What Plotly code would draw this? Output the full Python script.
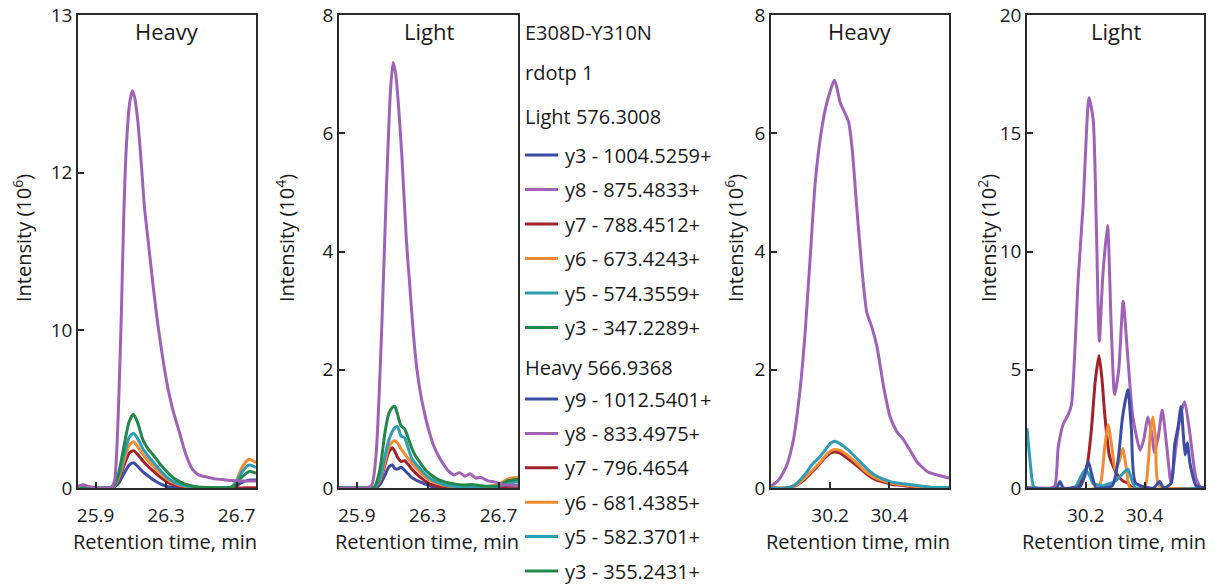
import numpy as np
import plotly.graph_objects as go

W, H = 1226, 584
FONT = "Open Sans"

COL = {
    "blue": "#3B4DA3",
    "purple": "#A062B5",
    "red": "#A2222B",
    "orange": "#F38B33",
    "cyan": "#2E9DB4",
    "green": "#23874A",
}

# ---------------- Peptide 1, heavy channel (intensity, 1e6) ----------------
h1_purple_t = [25.80, 25.83, 25.86, 25.90, 25.99, 26.008, 26.021, 26.033, 26.046, 26.059,
               26.074, 26.093, 26.108, 26.121, 26.14, 26.159, 26.177, 26.196, 26.224, 26.252,
               26.28, 26.309, 26.337, 26.375, 26.412, 26.45, 26.487, 26.53, 26.58, 26.63,
               26.675, 26.73, 26.81]
h1_purple = [0.1, 0.2, 0.1, 0.0, 0.05, 0.5, 2.6, 6.2, 10.2, 11.4,
             12.16, 12.44, 12.52, 12.48, 12.32, 12.06, 11.56, 11.18, 10.61, 10.09,
             8.3, 6.4, 5.0, 3.55, 2.13, 1.18, 0.82, 0.7, 0.58, 0.52,
             0.47, 0.45, 0.45]
h1_t = [25.80, 25.95, 26.00, 26.03, 26.06, 26.09, 26.115, 26.14, 26.17, 26.20, 26.23, 26.26,
        26.29, 26.32, 26.36, 26.40, 26.45, 26.50, 26.60, 26.67, 26.70, 26.73, 26.77, 26.81]
h1_green = [0, 0, 0.1, 0.9, 2.6, 4.2, 4.67, 4.1, 3.0, 2.45, 2.05, 1.6,
            1.2, 0.85, 0.5, 0.28, 0.12, 0.05, 0.02, 0.05, 0.3, 0.7, 1.04, 0.95]
h1_cyan = [0, 0, 0.08, 0.7, 2.0, 3.2, 3.47, 3.1, 2.45, 2.0, 1.6, 1.2,
           0.85, 0.55, 0.3, 0.15, 0.06, 0.02, 0.01, 0.05, 0.4, 1.0, 1.46, 1.3]
h1_orange = [0, 0, 0.07, 0.6, 1.7, 2.7, 2.94, 2.6, 2.1, 1.7, 1.35, 1.0,
             0.7, 0.45, 0.25, 0.12, 0.05, 0.02, 0.01, 0.05, 0.5, 1.3, 1.82, 1.6]
h1_red = [0, 0, 0.05, 0.5, 1.4, 2.2, 2.37, 2.1, 1.7, 1.35, 1.05, 0.75,
          0.5, 0.3, 0.15, 0.07, 0.03, 0.01, 0, 0, 0, 0, 0.02, 0.02]
h1_blue = [0, 0, 0.03, 0.3, 0.9, 1.45, 1.6, 1.35, 1.0, 0.75, 0.5, 0.3,
           0.15, 0.07, 0.02, 0.01, 0, 0, 0, 0.02, 0.15, 0.35, 0.5, 0.5]

# broken intensity axis of the first panel: tick values and their labels
h1_tick_values = [0, 10, 12, 13]
h1_tick_text = ["0", "10", "12", "13"]

# ---------------- Peptide 1, light channel (intensity, 1e4) ----------------
l1_purple_t = [25.80, 25.95, 25.985, 26.01, 26.04, 26.068, 26.09, 26.105, 26.12, 26.135,
               26.155, 26.18, 26.20, 26.22, 26.24, 26.26, 26.28, 26.30, 26.33, 26.36,
               26.39, 26.42, 26.45, 26.48, 26.51, 26.54, 26.57, 26.60, 26.64, 26.68,
               26.72, 26.76, 26.81]
l1_purple = [0, 0, 0.05, 0.6, 2.6, 5.1, 6.7, 7.2, 7.0, 6.5,
             5.6, 4.2, 3.4, 2.6, 2.0, 1.6, 1.3, 1.05, 0.75, 0.55,
             0.4, 0.28, 0.22, 0.26, 0.2, 0.24, 0.17, 0.18, 0.12, 0.1,
             0.06, 0.05, 0.04]
l1_t = [25.80, 25.95, 26.00, 26.03, 26.06, 26.08, 26.10, 26.115, 26.13, 26.15, 26.17, 26.19,
        26.21, 26.23, 26.26, 26.29, 26.32, 26.36, 26.40, 26.45, 26.50, 26.55, 26.60, 26.65,
        26.70, 26.75, 26.81]
l1_green = [0, 0, 0.02, 0.3, 0.95, 1.25, 1.36, 1.38, 1.25, 1.05, 1.0, 0.85,
            0.68, 0.55, 0.42, 0.3, 0.22, 0.14, 0.1, 0.07, 0.05, 0.06, 0.04, 0.03,
            0.04, 0.12, 0.15]
l1_cyan = [0, 0, 0.01, 0.15, 0.55, 0.8, 0.95, 1.02, 1.04, 0.88, 0.85, 0.68,
           0.5, 0.42, 0.32, 0.22, 0.15, 0.09, 0.05, 0.03, 0.02, 0.02, 0.02, 0.02,
           0.03, 0.08, 0.1]
l1_orange = [0, 0, 0.01, 0.12, 0.45, 0.68, 0.78, 0.8, 0.76, 0.66, 0.58, 0.5,
             0.42, 0.35, 0.26, 0.18, 0.12, 0.07, 0.04, 0.02, 0.02, 0.02, 0.02, 0.03,
             0.06, 0.15, 0.18]
l1_red = [0, 0, 0.01, 0.1, 0.4, 0.6, 0.68, 0.62, 0.52, 0.45, 0.46, 0.4,
          0.32, 0.26, 0.18, 0.11, 0.06, 0.03, 0.02, 0.01, 0.01, 0.01, 0.01, 0.01,
          0.02, 0.03, 0.03]
l1_blue = [0, 0, 0.0, 0.05, 0.22, 0.35, 0.39, 0.33, 0.32, 0.35, 0.3, 0.24,
           0.18, 0.14, 0.1, 0.06, 0.03, 0.01, 0, 0, 0, 0, 0, 0,
           0.01, 0.03, 0.04]

# ---------------- Peptide 2, heavy channel (intensity, 1e6) ----------------
h2_purple_t = [30.0, 30.025, 30.053, 30.076, 30.098, 30.115, 30.132, 30.149, 30.166, 30.183,
               30.2, 30.214, 30.223, 30.234, 30.251, 30.262, 30.274, 30.29, 30.307, 30.324,
               30.341, 30.358, 30.381, 30.403, 30.426, 30.448, 30.471, 30.494, 30.528, 30.562,
               30.602]
h2_purple = [0.03, 0.13, 0.38, 0.82, 1.65, 2.6, 3.86, 5.13, 5.89, 6.39,
             6.71, 6.9, 6.77, 6.52, 6.33, 6.2, 5.76, 4.75, 3.73, 2.97,
             2.72, 2.4, 1.71, 1.2, 0.95, 0.82, 0.63, 0.44, 0.28, 0.22,
             0.17]
h2_t = [30.0, 30.05, 30.08, 30.11, 30.14, 30.16, 30.18, 30.2, 30.215, 30.23,
        30.26, 30.29, 30.32, 30.35, 30.38, 30.41, 30.45, 30.5, 30.55, 30.602]
h2_cyan = [0, 0, 0.05, 0.2, 0.4, 0.5, 0.62, 0.75, 0.79, 0.76,
           0.65, 0.5, 0.35, 0.22, 0.15, 0.1, 0.07, 0.04, 0.01, 0.01]
h2_orange = [0, 0, 0.03, 0.15, 0.3, 0.4, 0.52, 0.62, 0.65, 0.64,
             0.55, 0.42, 0.28, 0.18, 0.12, 0.08, 0.05, 0.02, 0.01, 0.0]
h2_red = [0, 0, 0.03, 0.13, 0.28, 0.38, 0.5, 0.59, 0.61, 0.6,
          0.5, 0.38, 0.25, 0.15, 0.1, 0.06, 0.04, 0.01, 0.0, 0.0]

# ---------------- Peptide 2, light channel (intensity, 1e2) ----------------
l2_purple_t = [30.0, 30.08, 30.095, 30.106, 30.123, 30.14, 30.151, 30.174, 30.191, 30.211,
               30.225, 30.236, 30.246, 30.258, 30.274, 30.286, 30.298, 30.312, 30.327, 30.343,
               30.36, 30.385, 30.398, 30.411, 30.423, 30.434, 30.447, 30.46, 30.475, 30.49,
               30.507, 30.522, 30.536, 30.553, 30.575, 30.592, 30.602]
l2_purple = [0, 0, 0.1, 1.7, 2.7, 3.1, 3.5, 8.8, 12.0, 16.5,
             15.6, 11.0, 6.2, 9.0, 11.1, 7.0, 3.95, 5.0, 7.9, 5.5,
             3.0, 1.6, 2.1, 3.0, 2.4, 1.5, 2.2, 3.3, 1.8, 0.2,
             1.8, 3.1, 3.65, 2.4, 0.4, 0.0, 0.0]
l2_red_t = [30.0, 30.15, 30.175, 30.191, 30.205, 30.219, 30.232, 30.245, 30.255, 30.264,
            30.281, 30.304, 30.326, 30.343, 30.36, 30.602]
l2_red = [0, 0, 0.1, 0.48, 1.0, 2.46, 4.5, 5.6, 4.6, 3.17,
          1.33, 0.62, 0.3, 0.2, 0, 0]
l2_orange_t = [30.0, 30.24, 30.252, 30.265, 30.276, 30.29, 30.3, 30.313, 30.326, 30.338,
               30.35, 30.4, 30.412, 30.42, 30.428, 30.438, 30.45, 30.602]
l2_orange = [0, 0, 0.3, 1.8, 2.67, 1.6, 0.76, 1.1, 1.68, 0.8,
             0, 0, 1.0, 2.4, 3.0, 2.0, 0.1, 0]
l2_blue_t = [30.0, 30.1, 30.112, 30.124, 30.18, 30.196, 30.208, 30.22, 30.235, 30.29,
             30.31, 30.325, 30.343, 30.355, 30.37, 30.43, 30.451, 30.465, 30.49, 30.502,
             30.514, 30.524, 30.532, 30.538, 30.545, 30.555, 30.575, 30.602]
l2_blue = [0, 0, 0.27, 0, 0.05, 0.5, 1.12, 0.6, 0, 0.1,
           1.2, 3.0, 4.16, 2.5, 0.2, 0, 0.27, 0, 0.2, 1.8,
           2.6, 3.45, 2.2, 1.4, 1.9, 1.0, 0.1, 0]
l2_cyan_t = [30.0, 30.01, 30.021, 30.03, 30.16, 30.18, 30.197, 30.21, 30.225, 30.26,
             30.3, 30.325, 30.343, 30.355, 30.37, 30.602]
l2_cyan = [2.53, 1.2, 0.1, 0, 0, 0.4, 0.76, 0.6, 0.2, 0.1,
           0.3, 0.6, 0.79, 0.4, 0, 0]

# ---------------- legend text ----------------
legend_headers = ["E308D-Y310N", "rdotp 1"]
light_title = "Light 576.3008"
light_labels = ["y3 - 1004.5259+", "y8 - 875.4833+", "y7 - 788.4512+",
                "y6 - 673.4243+", "y5 - 574.3559+", "y3 - 347.2289+"]
heavy_title = "Heavy 566.9368"
heavy_labels = ["y9 - 1012.5401+", "y8 - 833.4975+", "y7 - 796.4654",
                "y6 - 681.4385+", "y5 - 582.3701+", "y3 - 355.2431+"]
legend_colors = ["blue", "purple", "red", "orange", "cyan", "green"]


def broken(v):
    """Map intensities onto the evenly spaced broken axis of panel 1."""
    return np.interp(v, h1_tick_values, [0, 1, 2, 3])


def px(x):
    return x / W


def py(y):
    return 1 - y / H


# panel frames in pixels: (left, right)
FRAMES = [(78, 256), (339, 518), (771, 949), (1027, 1204)]
TOP, BOTTOM = 15, 488

fig = go.Figure()


def add(xs, ys, color, idx):
    ax = "" if idx == 1 else str(idx)
    fig.add_trace(go.Scatter(
        x=xs, y=ys, mode="lines", showlegend=False,
        line=dict(color=COL[color], width=3, shape="spline", smoothing=0.6),
        xaxis="x" + ax, yaxis="y" + ax, hoverinfo="x+y"))


# panel 1
for name, vals in [("blue", h1_blue), ("red", h1_red), ("orange", h1_orange),
                   ("cyan", h1_cyan), ("green", h1_green)]:
    add(h1_t, broken(vals), name, 1)
add(h1_purple_t, broken(h1_purple), "purple", 1)

# panel 2
for name, vals in [("blue", l1_blue), ("red", l1_red), ("orange", l1_orange),
                   ("cyan", l1_cyan), ("green", l1_green)]:
    add(l1_t, vals, name, 2)
add(l1_purple_t, l1_purple, "purple", 2)

# panel 3
add(h2_purple_t, h2_purple, "purple", 3)
for name, vals in [("red", h2_red), ("orange", h2_orange), ("cyan", h2_cyan)]:
    add(h2_t, vals, name, 3)

# panel 4
add(l2_purple_t, l2_purple, "purple", 4)
add(l2_red_t, l2_red, "red", 4)
add(l2_orange_t, l2_orange, "orange", 4)
add(l2_cyan_t, l2_cyan, "cyan", 4)
add(l2_blue_t, l2_blue, "blue", 4)

tickfont = dict(family=FONT, size=19, color="#1a1a1a")
axis_common = dict(showline=True, mirror=True, linecolor="#2b2b2b", linewidth=1.5,
                   ticks="inside", ticklen=6, tickwidth=1.5, tickcolor="#2b2b2b",
                   showgrid=False, zeroline=False, tickfont=tickfont, automargin=False,
                   fixedrange=True)

x_ranges = [[25.8, 26.81], [25.8, 26.81], [30.0, 30.602], [30.0, 30.602]]
x_ticks = [[25.9, 26.3, 26.7], [25.9, 26.3, 26.7], [30.2, 30.4], [30.2, 30.4]]
y_cfg = [
    dict(range=[0, 3], tickvals=[0, 1, 2, 3], ticktext=h1_tick_text),
    dict(range=[0, 8], tickvals=[0, 2, 4, 6, 8]),
    dict(range=[0, 8], tickvals=[0, 2, 4, 6, 8]),
    dict(range=[0, 20], tickvals=[0, 5, 10, 15, 20]),
]

layout = dict(width=W, height=H, margin=dict(l=0, r=0, t=0, b=0),
              paper_bgcolor="white", plot_bgcolor="white", showlegend=False)
for i in range(4):
    ax = "" if i == 0 else str(i + 1)
    l, r = FRAMES[i]
    layout["xaxis" + ax] = dict(axis_common, domain=[px(l), px(r)], range=x_ranges[i],
                                tickvals=x_ticks[i], anchor="y" + ax,
                                ticklabelstandoff=9)
    layout["yaxis" + ax] = dict(axis_common, domain=[py(BOTTOM), py(TOP)],
                                anchor="x" + ax, **y_cfg[i])
fig.update_layout(**layout)

annotations = []
panel_titles = ["Heavy", "Light", "Heavy", "Light"]
y_titles = ["Intensity (10<sup>6</sup>)", "Intensity (10<sup>4</sup>)",
            "Intensity (10<sup>6</sup>)", "Intensity (10<sup>2</sup>)"]
y_title_x = [23, 286, 735, 988]
for i in range(4):
    l, r = FRAMES[i]
    annotations.append(dict(text=panel_titles[i], x=px((l + r) / 2), y=py(31),
                            xref="paper", yref="paper", showarrow=False,
                            xanchor="center", yanchor="middle",
                            font=dict(family=FONT, size=22, color="#1a1a1a")))
    annotations.append(dict(text="Retention time, min", x=px((l + r) / 2 - 2), y=py(541),
                            xref="paper", yref="paper", showarrow=False,
                            xanchor="center", yanchor="middle",
                            font=dict(family=FONT, size=20, color="#1a1a1a")))
    annotations.append(dict(text=y_titles[i], x=px(y_title_x[i]), y=py(238),
                            xref="paper", yref="paper", showarrow=False, textangle=-90,
                            xanchor="center", yanchor="middle",
                            font=dict(family=FONT, size=20, color="#1a1a1a")))

legend_font = dict(family=FONT, size=20, color="#1a1a1a")
shapes = []


def legend_text(text, x, y):
    annotations.append(dict(text=text, x=px(x), y=py(y), xref="paper", yref="paper",
                            showarrow=False, xanchor="left", yanchor="middle",
                            font=legend_font))


legend_text(legend_headers[0], 523, 32)
legend_text(legend_headers[1], 523, 72)
legend_text(light_title, 523, 117)
legend_text(heavy_title, 523, 367)
for block, y0, step in [(light_labels, 155, 34.5), (heavy_labels, 399, 34.4)]:
    for k, lab in enumerate(block):
        yy = y0 + k * step
        shapes.append(dict(type="line", xref="paper", yref="paper",
                           x0=px(525), x1=px(558), y0=py(yy), y1=py(yy),
                           line=dict(color=COL[legend_colors[k]], width=3)))
        legend_text(lab, 563, yy)

fig.update_layout(annotations=annotations, shapes=shapes)
fig.write_html("out.html")
